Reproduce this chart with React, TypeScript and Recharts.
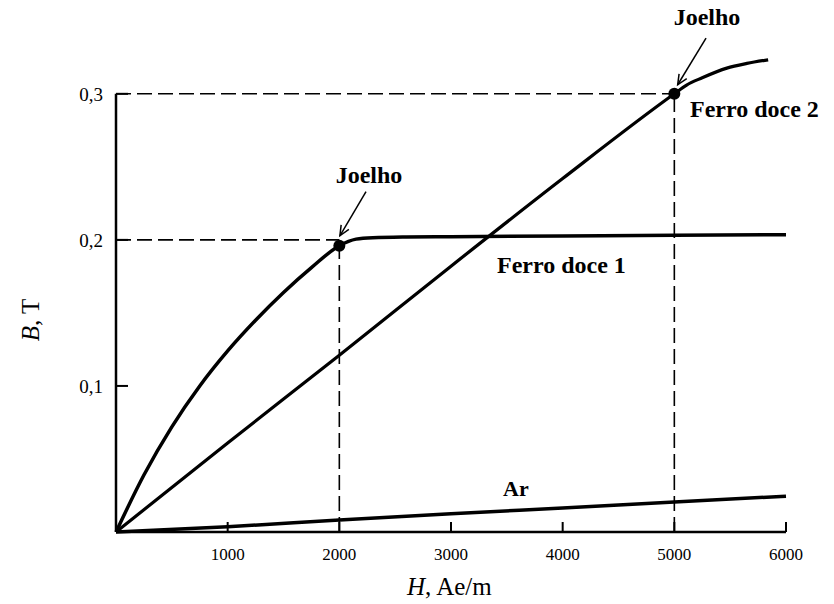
import React from "react";
import { LineChart, Line, XAxis, YAxis, ReferenceLine, ReferenceDot } from "recharts";

// curva B x H - Ferro doce 1 (joelho em 2000 Ae/m)
const ferro1H = [0, 250, 500, 750, 1000, 1250, 1500, 1750, 2000, 2150, 2300, 2600, 3000, 4000, 5000, 6000];
const ferro1B = [0, 0.039, 0.072, 0.1, 0.124, 0.145, 0.164, 0.181, 0.196, 0.2005, 0.2015, 0.202, 0.2022, 0.2027, 0.2032, 0.2035];

// Ferro doce 2 (joelho em 5000 Ae/m)
const ferro2H = [0, 1000, 2000, 3000, 4000, 5000, 5110, 5250, 5470, 5650, 5840];
const ferro2B = [0, 0.061, 0.121, 0.182, 0.242, 0.3, 0.306, 0.311, 0.3176, 0.3208, 0.3233];

// Ar
const arH = [0, 1000, 2000, 3000, 4000, 5000, 6000];
const arB = [0, 0.0036, 0.0082, 0.0125, 0.0165, 0.0205, 0.0245];

const xTicks = [1000, 2000, 3000, 4000, 5000, 6000];
const yTicks = [0.1, 0.2, 0.3];

const KNEE1 = 8;
const KNEE2 = 5;

const FONT = "'Liberation Serif', 'DejaVu Serif', serif";

const toPoints = (hs: number[], bs: number[]) => hs.map((h, i) => ({ h, b: bs[i] }));

const ferro1 = toPoints(ferro1H, ferro1B);
const ferro2 = toPoints(ferro2H, ferro2B);
const ar = toPoints(arH, arB);

const fmt = (v: number) => v.toFixed(1).replace(".", ",");

const XTick = ({ x, y, payload }: any) => (
  <g>
    <line x1={x} y1={y} x2={x} y2={y - 10} stroke="#000" strokeWidth={2} />
    <text x={x} y={y + 28} textAnchor="middle" fontFamily={FONT} fontSize={17} fill="#000">
      {payload.value}
    </text>
  </g>
);

const YTick = ({ x, y, payload }: any) => (
  <g>
    <line x1={x} y1={y} x2={x + 12} y2={y} stroke="#000" strokeWidth={2} />
    <text x={x - 13} y={y + 7} textAnchor="end" fontFamily={FONT} fontSize={19} fill="#000">
      {fmt(payload.value)}
    </text>
  </g>
);

// seta com ponta aberta
const Arrow = (p: any) => {
  const { x1, y1, x2, y2 } = p;
  const a = Math.atan2(y2 - y1, x2 - x1);
  const len = 11;
  const s = 0.42;
  const l = [x2 - len * Math.cos(a - s), y2 - len * Math.sin(a - s)];
  const r = [x2 - len * Math.cos(a + s), y2 - len * Math.sin(a + s)];
  return (
    <g>
      <line x1={x1} y1={y1} x2={x2} y2={y2} stroke="#000" strokeWidth={1.5} />
      <polyline
        points={`${l[0]},${l[1]} ${x2},${y2} ${r[0]},${r[1]}`}
        fill="none"
        stroke="#000"
        strokeWidth={1.5}
      />
    </g>
  );
};

const dash = { stroke: "#000", strokeWidth: 1.6, strokeDasharray: "15 6" };

export default function App() {
  const k1 = ferro1[KNEE1];
  const k2 = ferro2[KNEE2];
  const label = { fontFamily: FONT, fontSize: 24, fontWeight: 700, fill: "#000" };

  return (
    <div style={{ position: "absolute", left: 0, top: 0, width: 834, height: 604, background: "#fff" }}>
      <LineChart width={834} height={604} margin={{ top: 50, right: 48, bottom: 42, left: 76 }}>
        <XAxis
          type="number"
          dataKey="h"
          domain={[0, 6000]}
          ticks={xTicks}
          interval={0}
          height={30}
          tickSize={0}
          tickMargin={0}
          tickLine={false}
          axisLine={{ stroke: "#000", strokeWidth: 2.5 }}
          tick={(props: any) => <XTick {...props} />}
        />
        <YAxis
          type="number"
          dataKey="b"
          domain={[0, 0.33]}
          ticks={yTicks}
          interval={0}
          width={40}
          tickSize={0}
          tickMargin={0}
          tickLine={false}
          axisLine={false}
          tick={(props: any) => <YTick {...props} />}
        />

        <ReferenceLine segment={[{ x: 0, y: 0 }, { x: 0, y: 0.3 }]} stroke="#000" strokeWidth={2.5} />
        <ReferenceLine segment={[{ x: 0, y: 0.2 }, { x: k1.h, y: 0.2 }]} {...dash} />
        <ReferenceLine segment={[{ x: k1.h, y: 0 }, { x: k1.h, y: k1.b }]} {...dash} />
        <ReferenceLine segment={[{ x: 0, y: 0.3 }, { x: k2.h, y: 0.3 }]} {...dash} />
        <ReferenceLine segment={[{ x: k2.h, y: 0 }, { x: k2.h, y: k2.b }]} {...dash} />

        <Line data={ar} dataKey="b" type="monotone" stroke="#000" strokeWidth={3.5} dot={false} isAnimationActive={false} />
        <Line data={ferro2} dataKey="b" type="monotone" stroke="#000" strokeWidth={3.2} dot={false} isAnimationActive={false} />
        <Line data={ferro1} dataKey="b" type="monotone" stroke="#000" strokeWidth={3.5} dot={false} isAnimationActive={false} />

        <ReferenceDot x={k1.h} y={k1.b} r={6} fill="#000" stroke="none" />
        <ReferenceDot x={k2.h} y={k2.b} r={6} fill="#000" stroke="none" />

        <ReferenceLine
          segment={[{ x: 2239, y: 0.233 }, { x: 2005, y: 0.2028 }]}
          ifOverflow="visible"
          shape={Arrow}
        />
        <ReferenceLine
          segment={[{ x: 5284, y: 0.3381 }, { x: 5030, y: 0.3062 }]}
          ifOverflow="visible"
          shape={Arrow}
        />
      </LineChart>

      <svg width={834} height={604} style={{ position: "absolute", left: 0, top: 0, pointerEvents: "none" }}>
        <text x={369} y={183} textAnchor="middle" {...label}>Joelho</text>
        <text x={707} y={25} textAnchor="middle" {...label}>Joelho</text>
        <text x={690} y={117} {...label}>Ferro doce 2</text>
        <text x={497} y={273} {...label}>Ferro doce 1</text>
        <text x={503} y={496} {...label} fontSize={22}>Ar</text>
        <text x={407} y={595} fontFamily={FONT} fontSize={25} fill="#000">
          <tspan fontStyle="italic">H</tspan>, Ae/m
        </text>
        <text
          transform="translate(39,320) rotate(-90)"
          textAnchor="middle"
          fontFamily={FONT}
          fontSize={25}
          fill="#000"
        >
          <tspan fontStyle="italic">B</tspan>, T
        </text>
      </svg>
    </div>
  );
}
